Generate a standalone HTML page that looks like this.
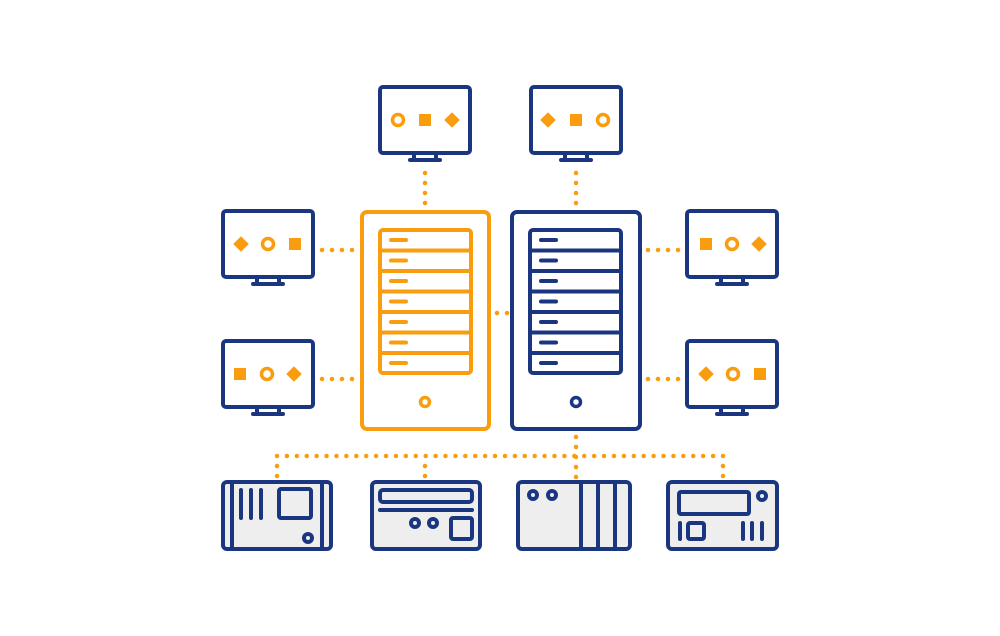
<!DOCTYPE html>
<html><head><style>html,body{margin:0;padding:0;background:#fff}svg{display:block}</style></head>
<body>
<svg width="1000" height="636" viewBox="0 0 1000 636" xmlns="http://www.w3.org/2000/svg">
<defs>
<g id="mon">
<rect x="0" y="0" width="90" height="66" rx="3" fill="#fff" stroke="#1b3680" stroke-width="4"/>
<path d="M34 66 V72 M56 66 V72" stroke="#1b3680" stroke-width="4"/>
<line x1="30" y1="73" x2="60" y2="73" stroke="#1b3680" stroke-width="4" stroke-linecap="round"/>
</g>
<g id="circ"><circle r="5.5" fill="none" stroke="#f99d0f" stroke-width="3.5"/></g>
<g id="sq"><rect x="-6" y="-6" width="12" height="12" fill="#f99d0f"/></g>
<g id="dia"><rect x="-5.5" y="-5.5" width="11" height="11" fill="#f99d0f" transform="rotate(45)"/></g>
</defs>

<g stroke="#f99d0f" stroke-width="4.5" stroke-linecap="round" stroke-dasharray="0 10" fill="none">
<line x1="425" y1="173" x2="425" y2="204.5"/>
<line x1="576" y1="173" x2="576" y2="204.5"/>
<line x1="322" y1="250" x2="352.5" y2="250"/>
<line x1="322" y1="379" x2="352.5" y2="379"/>
<line x1="648" y1="250" x2="678.5" y2="250"/>
<line x1="648" y1="379" x2="678.5" y2="379"/>
<line x1="497" y1="313" x2="507.5" y2="313"/>
<line x1="576" y1="437" x2="576" y2="477.5"/>
<line x1="277" y1="456" x2="724" y2="456" stroke-dasharray="0 9.911"/>
<line x1="277" y1="466" x2="277" y2="476.5"/>
<line x1="425" y1="466" x2="425" y2="476.5"/>
<line x1="723" y1="466" x2="723" y2="476.5"/>
</g>

<use href="#mon" x="380" y="87"/>
<use href="#circ" x="398" y="120"/><use href="#sq" x="425" y="120"/><use href="#dia" x="452" y="120"/>
<use href="#mon" x="531" y="87"/>
<use href="#dia" x="548" y="120"/><use href="#sq" x="576" y="120"/><use href="#circ" x="603" y="120"/>
<use href="#mon" x="223" y="211"/>
<use href="#dia" x="241" y="244"/><use href="#circ" x="268" y="244"/><use href="#sq" x="295" y="244"/>
<use href="#mon" x="223" y="341"/>
<use href="#sq" x="240" y="374"/><use href="#circ" x="267" y="374"/><use href="#dia" x="294" y="374"/>
<use href="#mon" x="687" y="211"/>
<use href="#sq" x="706" y="244"/><use href="#circ" x="732" y="244"/><use href="#dia" x="759" y="244"/>
<use href="#mon" x="687" y="341"/>
<use href="#dia" x="706" y="374"/><use href="#circ" x="733" y="374"/><use href="#sq" x="760" y="374"/>

<g stroke="#f99d0f" fill="none" stroke-width="4">
<rect x="362" y="212" width="127" height="217" rx="5" fill="#fff"/>
<rect x="380" y="230" width="91" height="143" rx="3"/>
<path d="M380 250.5H471 M380 271H471 M380 291.5H471 M380 312H471 M380 332.5H471 M380 353H471"/>
<path d="M391 240H406 M391 260.5H406 M391 281H406 M391 301.5H406 M391 322H406 M391 342.5H406 M391 363H406" stroke-linecap="round"/>
<circle cx="425" cy="402" r="4.5" stroke-width="3.5"/>
</g>
<g stroke="#1b3680" fill="none" stroke-width="4">
<rect x="512" y="212" width="128" height="217" rx="5" fill="#fff"/>
<rect x="530" y="230" width="91" height="143" rx="3"/>
<path d="M530 250.5H621 M530 271H621 M530 291.5H621 M530 312H621 M530 332.5H621 M530 353H621"/>
<path d="M541 240H556 M541 260.5H556 M541 281H556 M541 301.5H556 M541 322H556 M541 342.5H556 M541 363H556" stroke-linecap="round"/>
<circle cx="576" cy="402" r="4.5" stroke-width="3.5"/>
</g>

<g stroke="#1b3680" stroke-width="4" fill="none" stroke-linecap="round">
<rect x="223" y="482" width="108" height="67" rx="4" fill="#eeeeee"/>
<path d="M232 482V549 M322 482V549 M241 490V518 M251 490V518 M261 490V518"/>
<rect x="279" y="489" width="32" height="29" rx="2"/>
<circle cx="308" cy="538" r="4"/>

<rect x="372" y="482" width="108" height="67" rx="4" fill="#eeeeee"/>
<rect x="380" y="490" width="92" height="12" rx="3"/>
<path d="M380 510H472"/>
<circle cx="415" cy="523" r="4"/><circle cx="433" cy="523" r="4"/>
<rect x="451" y="518" width="21" height="21" rx="2"/>

<rect x="518" y="482" width="112" height="67" rx="4" fill="#eeeeee"/>
<circle cx="533" cy="495" r="4"/><circle cx="552" cy="495" r="4"/>
<path d="M581 482V549 M598 482V549 M615 482V549" stroke-linecap="butt"/>

<rect x="668" y="482" width="109" height="67" rx="4" fill="#eeeeee"/>
<rect x="679" y="492" width="70" height="22" rx="2"/>
<circle cx="762" cy="496" r="4"/>
<rect x="688" y="523" width="16" height="16" rx="2"/>
<path d="M680 523V539 M743 523V539 M752 523V539 M762 523V539"/>
</g>
</svg>
</body></html>
